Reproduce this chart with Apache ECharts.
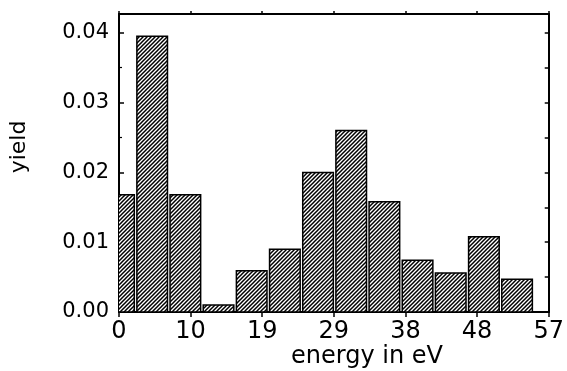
<!DOCTYPE html>
<html>
<head>
<meta charset="utf-8">
<script src="https://cdn.jsdelivr.net/npm/echarts@6/dist/echarts.min.js"></script>
<style>
html, body { margin: 0; padding: 0; background: #fff; }
#chart { width: 567px; height: 371px; }
</style>
</head>
<body>
<div id="chart"></div>
<script>
// bin centres (eV) and yield of each bin
const binCenters = [0, 4.4, 8.8, 13.2, 17.6, 22.0, 26.4, 30.8, 35.2, 39.6, 44.0, 48.4, 52.8]
const yieldValues = [0.0168, 0.0395, 0.0168, 0.0010, 0.0059, 0.0090, 0.0200, 0.0260, 0.0158, 0.0074, 0.0056, 0.0108, 0.0047]
const binHalfWidth = 2.03
const xTickLabels = ['0', '10', '19', '29', '38', '48', '57']
const yTickLabels = ['0.00', '0.01', '0.02', '0.03', '0.04']

// hatch pattern "////"
const hatch = document.createElement('canvas')
hatch.width = 4
hatch.height = 4
const hctx = hatch.getContext('2d')
hctx.fillStyle = '#fff'
hctx.fillRect(0, 0, 4, 4)
hctx.strokeStyle = '#000'
hctx.lineWidth = 1.5
hctx.beginPath()
hctx.moveTo(-1, 5); hctx.lineTo(5, -1)
hctx.moveTo(-1, 1); hctx.lineTo(1, -1)
hctx.moveTo(3, 5); hctx.lineTo(5, 3)
hctx.stroke()

const font = 'DejaVu Sans'
const black = '#000'

const chart = echarts.init(document.getElementById('chart'))

const option = {
    animation: false,
    grid: { left: 119, right: 15, top: 14, bottom: 59 },
    xAxis: [
        {
            type: 'value', min: 0, max: 57, interval: 9.5, position: 'bottom',
            axisLine: { show: true, onZero: false, lineStyle: { color: black, width: 2 } },
            axisTick: { show: true, inside: false, length: 5, lineStyle: { color: black, width: 1.5 } },
            axisLabel: {
                color: black, fontSize: 24, fontFamily: font, margin: 8,
                formatter: (v) => xTickLabels[Math.round(v / 9.5)] ?? ''
            },
            splitLine: { show: false }
        },
        {
            type: 'value', min: 0, max: 57, interval: 9.5, position: 'top',
            axisLine: { show: true, onZero: false, lineStyle: { color: black, width: 2 } },
            axisTick: { show: true, inside: false, length: 3, lineStyle: { color: black, width: 1.5 } },
            axisLabel: { show: false },
            splitLine: { show: false }
        }
    ],
    yAxis: [
        {
            type: 'value', min: 0, max: 0.0427, interval: 0.01, position: 'left',
            axisLine: { show: true, onZero: false, lineStyle: { color: black, width: 2 } },
            axisTick: { show: true, inside: true, length: 5, lineStyle: { color: black, width: 1.5 } },
            minorTick: { show: true, splitNumber: 2, length: 3, lineStyle: { color: black, width: 1.2 } },
            axisLabel: {
                color: black, fontSize: 21, fontFamily: font, margin: 10, showMaxLabel: false,
                formatter: (v) => yTickLabels[Math.round(v / 0.01)] ?? ''
            },
            splitLine: { show: false }
        },
        {
            type: 'value', min: 0, max: 0.0427, interval: 0.005, position: 'right',
            axisLine: { show: true, onZero: false, lineStyle: { color: black, width: 2 } },
            axisTick: { show: true, inside: true, length: 4, lineStyle: { color: black, width: 1.5 } },
            axisLabel: { show: false },
            splitLine: { show: false }
        }
    ],
    series: [
        {
            type: 'custom',
            clip: true,
            data: binCenters.map((c, i) => [c, yieldValues[i]]),
            renderItem: (params, api) => {
                const c = api.value(0)
                const v = api.value(1)
                const p0 = api.coord([c - binHalfWidth, v])
                const p1 = api.coord([c + binHalfWidth, 0])
                return {
                    type: 'rect',
                    shape: { x: p0[0], y: p0[1], width: p1[0] - p0[0], height: p1[1] - p0[1] },
                    style: { fill: { image: hatch, repeat: 'repeat' }, stroke: black, lineWidth: 1.5 }
                }
            }
        }
    ],
    graphic: {
        elements: [
            {
                type: 'text', x: 367, y: 357,
                style: { text: 'energy in eV', fill: black, fontSize: 24, fontFamily: font, align: 'center', verticalAlign: 'middle' }
            },
            {
                type: 'text', x: 19, y: 147, rotation: Math.PI / 2,
                style: { text: 'yield', fill: black, fontSize: 22, fontFamily: font, align: 'center', verticalAlign: 'middle' }
            }
        ]
    }
}

chart.setOption(option)
</script>
</body>
</html>
